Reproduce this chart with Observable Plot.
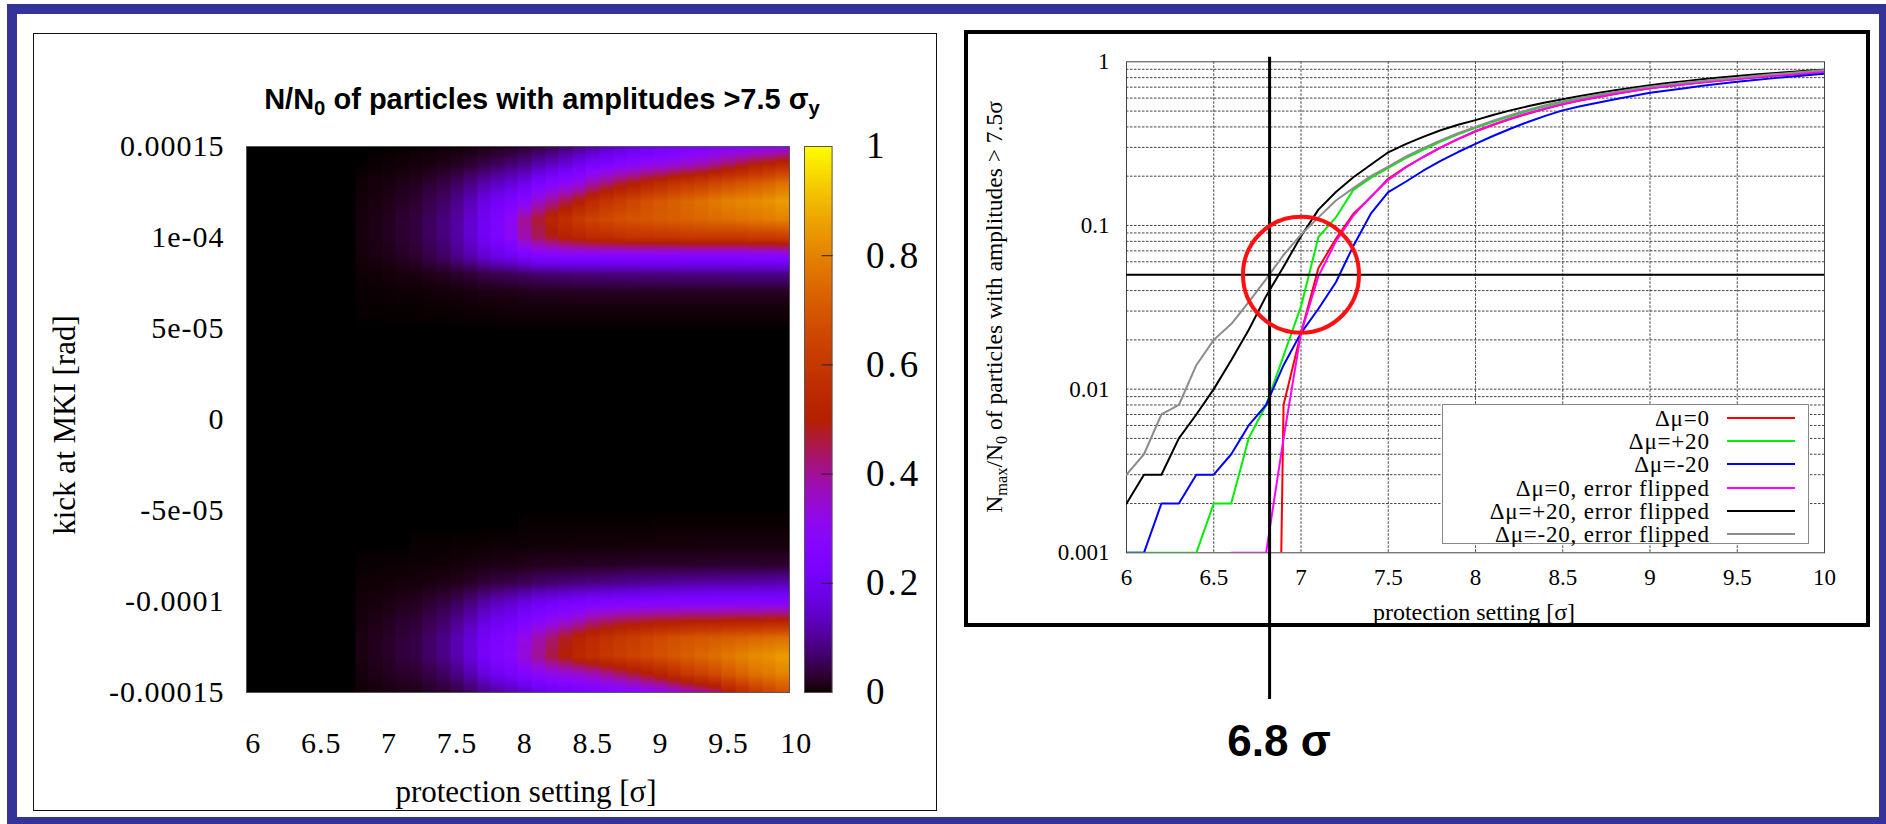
<!DOCTYPE html>
<html><head><meta charset="utf-8">
<script src="https://cdn.jsdelivr.net/npm/d3@7"></script>
<script src="https://cdn.jsdelivr.net/npm/@observablehq/plot@0.6"></script>
<style>
html,body{margin:0;padding:0;background:#fff;}
#page{position:relative;width:1886px;height:824px;overflow:hidden;background:#fff;}
.abs{position:absolute;}
.serif{font-family:"Liberation Serif","Times New Roman",serif;color:#000;line-height:1;white-space:nowrap;}
.c{transform:translate(-50%,-50%);}
.rot{transform:translate(-50%,-50%) rotate(-90deg);}
sub{font-size:0.7em;vertical-align:-0.3em;line-height:0;}
</style></head><body>
<div id="page">
  <div class="abs" style="left:7px;top:4px;width:1882px;height:823px;border:10px solid #333399;box-sizing:border-box;"></div>
  <div class="abs" style="left:33px;top:33px;width:904px;height:778px;border:1.5px solid #111;box-sizing:border-box;"></div>
  <div class="abs" style="left:964px;top:30px;width:906px;height:597px;border:4px solid #000;box-sizing:border-box;"></div>
  <div class="abs" id="heat" style="left:0;top:0;"></div>
  <div class="abs" id="cbar" style="left:790px;top:120px;"></div>
  <div class="abs" id="curves" style="left:960px;top:0;"></div>
  <div class="abs c" style="left:542px;top:99px;font:bold 29px 'Liberation Sans',Arial,sans-serif;line-height:1;white-space:nowrap;">N/N<sub>0</sub> of particles with amplitudes &gt;7.5 σ<sub>y</sub></div>
  <div class="abs serif rot" style="left:64px;top:425px;font-size:31px;">kick at MKI [rad]</div>
  <div class="abs serif c" style="left:526px;top:791px;font-size:31px;">protection setting [σ]</div>
  <div class="abs serif rot" style="left:995px;top:307px;font-size:23.5px;">N<sub>max</sub>/N<sub>0</sub> of particles with amplitudes &gt; 7.5σ</div>
  <div class="abs serif c" style="left:1474px;top:612px;font-size:24px;">protection setting [σ]</div>
  <div class="abs c" style="left:1279px;top:741px;font:bold 44px 'Liberation Sans',Arial,sans-serif;line-height:1;white-space:nowrap;">6.8 σ</div>
  <div class="abs" id="legend" style="left:1442px;top:404px;width:367px;height:140px;background:#fff;border:1px solid #888;box-sizing:border-box;"></div>
</div>
<script>
// ---------- left panel: heat map ----------
const protectionCols = [6.0,6.1,6.2,6.3,6.4,6.5,6.6,6.7,6.8,6.9,7.0,7.1,7.2,7.3,7.4,7.5,7.6,7.7,7.8,7.9,8.0,8.1,8.2,8.3,8.4,8.5,8.6,8.7,8.8,8.9,9.0,9.1,9.2,9.3,9.4,9.5,9.6,9.7,9.8,9.9];
const kickRows = [1.5e-4,1.4e-4,1.3e-4,1.2e-4,1.1e-4,1.0e-4,0.9e-4,0.8e-4,0.7e-4,0.6e-4,0.5e-4,
                  -0.5e-4,-0.6e-4,-0.7e-4,-0.8e-4,-0.9e-4,-1.0e-4,-1.1e-4,-1.2e-4,-1.3e-4,-1.4e-4,-1.5e-4];
const fraction = [
 [0,0,0,0,0,0,0,0, 0,0,0,0,.001,.0015,.003,.004,.007,.011,.015,.019,.028,.04,.05,.07,.09,.11,.13,.15,.165,.18,.2,.21,.22,.23,.25,.26,.27,.28,.29,.3],
 [0,0,0,0,0,0,0,0, 0,.0015,.003,.005,.007,.01,.015,.021,.032,.046,.06,.075,.092,.12,.14,.165,.195,.225,.25,.27,.29,.31,.32,.34,.36,.38,.41,.44,.47,.5,.52,.55],
 [0,0,0,0,0,0,0,0, .003,.006,.009,.014,.02,.03,.042,.061,.085,.116,.138,.158,.184,.23,.26,.29,.32,.38,.42,.46,.49,.52,.55,.58,.6,.62,.65,.67,.69,.71,.73,.76],
 [0,0,0,0,0,0,0,0, .005,.01,.015,.023,.031,.048,.064,.092,.128,.174,.206,.238,.28,.35,.4,.45,.5,.55,.59,.62,.65,.68,.7,.72,.74,.76,.78,.8,.81,.82,.83,.85],
 [0,0,0,0,0,0,0,0, .008,.012,.02,.03,.04,.06,.08,.11,.15,.2,.24,.3,.4,.47,.53,.57,.61,.64,.66,.68,.69,.7,.71,.72,.73,.74,.75,.76,.77,.78,.79,.8],
 [0,0,0,0,0,0,0,0, .008,.012,.02,.03,.04,.06,.08,.11,.15,.2,.24,.29,.38,.44,.48,.51,.53,.55,.56,.57,.58,.58,.59,.59,.6,.6,.6,.6,.6,.61,.61,.62],
 [0,0,0,0,0,0,0,0, .006,.01,.015,.023,.031,.048,.064,.092,.12,.158,.18,.2,.23,.26,.26,.27,.27,.27,.27,.27,.27,.27,.27,.27,.27,.27,.27,.27,.27,.275,.275,.28],
 [0,0,0,0,0,0,0,0, .003,.004,.006,.009,.011,.016,.02,.027,.035,.046,.052,.057,.064,.072,.075,.077,.08,.08,.082,.083,.084,.085,.085,.086,.087,.088,.088,.089,.09,.09,.09,.09],
 [0,0,0,0,0,0,0,0, .0015,.002,.002,.003,.003,.004,.005,.007,.0085,.012,.013,.014,.016,.018,.018,.019,.02,.02,.02,.02,.02,.02,.02,.02,.02,.02,.02,.02,.02,.02,.02,.02],
 [0,0,0,0,0,0,0,0, .0005,.0005,.001,.001,.001,.0015,.0015,.002,.003,.0033,.0035,.0045,.0046,.005,.005,.005,.005,.005,.005,.005,.005,.005,.005,.005,.005,.005,.005,.005,.005,.005,.005,.005],
 [0,0,0,0,0,0,0,0, 0,0,0,0,0,0,0,0,0,0,0,0,0,0,0,0,0,0,0,0,0,0,0,0,0,0,0,0,0,0,0,0],
 [0,0,0,0,0,0,0,0, 0,0,0,0,0,0,0,0,0,0,0,0,0,0,0,0,0,0,0,0,0,0,0,0,0,0,0,0,0,0,0,0],
 [0,0,0,0,0,0,0,0, 0,0,0,0,0,0,0,0,0,0,0,0,.001,.001,.001,.001,.001,.001,.001,.001,.001,.001,.002,.002,.002,.002,.002,.002,.002,.002,.002,.002],
 [0,0,0,0,0,0,0,0, 0,0,0,0,.001,.001,.001,.002,.002,.0025,.0035,.0035,.004,.005,.005,.005,.006,.006,.006,.006,.007,.007,.007,.007,.007,.008,.008,.008,.008,.008,.008,.008],
 [0,0,0,0,0,0,0,0, .001,.0015,.002,.002,.003,.0035,.004,.006,.008,.011,.013,.014,.017,.019,.02,.021,.022,.023,.024,.025,.026,.027,.027,.028,.028,.029,.029,.03,.03,.03,.03,.03],
 [0,0,0,0,0,0,0,0, .003,.004,.0045,.006,.007,.01,.013,.018,.026,.035,.043,.049,.057,.068,.073,.078,.083,.088,.092,.096,.1,.103,.106,.108,.11,.112,.114,.115,.116,.118,.119,.12],
 [0,0,0,0,0,0,0,0, .005,.008,.011,.016,.02,.03,.04,.055,.078,.108,.13,.145,.166,.19,.2,.21,.22,.23,.235,.24,.245,.25,.25,.252,.254,.255,.256,.257,.258,.259,.26,.26],
 [0,0,0,0,0,0,0,0, .008,.013,.02,.028,.033,.05,.066,.092,.124,.166,.19,.207,.24,.27,.3,.33,.36,.4,.42,.44,.45,.46,.47,.47,.48,.48,.48,.49,.49,.49,.5,.5],
 [0,0,0,0,0,0,0,0, .011,.018,.026,.037,.044,.065,.087,.122,.16,.208,.237,.264,.32,.38,.43,.48,.52,.55,.58,.6,.62,.64,.66,.68,.69,.7,.71,.72,.73,.74,.75,.76],
 [0,0,0,0,0,0,0,0, .011,.018,.026,.037,.044,.065,.087,.122,.163,.216,.25,.28,.34,.4,.46,.5,.54,.57,.6,.62,.64,.66,.68,.7,.72,.74,.76,.78,.8,.82,.83,.85],
 [0,0,0,0,0,0,0,0, .008,.013,.02,.027,.031,.045,.061,.085,.12,.166,.198,.22,.26,.29,.31,.33,.35,.37,.4,.43,.46,.49,.52,.56,.6,.63,.66,.7,.73,.76,.78,.8],
 [0,0,0,0,0,0,0,0, .004,.007,.009,.013,.015,.022,.03,.043,.06,.083,.103,.119,.138,.165,.18,.195,.21,.22,.235,.25,.265,.28,.3,.33,.36,.39,.42,.5,.55,.6,.64,.68]
];
const kickTicks = [1.5e-4, 1e-4, 5e-5, 0, -5e-5, -1e-4, -1.5e-4];
const kickTickLabels = ["0.00015", "1e-04", "5e-05", "0", "-5e-05", "-0.0001", "-0.00015"];
const heatXTicks = [6, 6.5, 7, 7.5, 8, 8.5, 9, 9.5, 10];
const colorbarTicks = [0, 0.2, 0.4, 0.6, 0.8, 1];

// ---------- right panel: curves ----------
const protection = [6.0,6.1,6.2,6.3,6.4,6.5,6.6,6.7,6.8,6.9,7.0,7.1,7.2,7.3,7.4,7.5,7.6,7.7,7.8,7.9,8.0,8.1,8.2,8.3,8.4,8.5,8.6,8.7,8.8,8.9,9.0,9.1,9.2,9.3,9.4,9.5,9.6,9.7,9.8,9.9,10.0];
const dmu0       = [0,0,0,0,0,0,0,0,1e-9,.008,.022,.055,.083,.118,.149,.193,.227,.262,.299,.337,.375,.411,.447,.482,.516,.55,.579,.608,.635,.662,.69,.71,.73,.748,.767,.785,.802,.818,.834,.849,.865];
const dmuP20     = [.001,.001,.001,.001,.001,.002,.002,.005,.008,.016,.032,.085,.112,.165,.195,.225,.258,.29,.325,.36,.395,.43,.465,.5,.535,.568,.596,.622,.647,.671,.695,.715,.735,.754,.772,.79,.808,.827,.845,.863,.88];
const dmuM20     = [.001,.001,.002,.002,.003,.003,.004,.006,.008,.014,.022,.031,.045,.075,.118,.16,.185,.216,.248,.281,.315,.352,.39,.429,.467,.505,.535,.562,.59,.618,.646,.668,.69,.713,.735,.755,.774,.792,.811,.828,.845];
const dmu0Flip   = [0,0,0,0,0,0,.001,.001,.001,.005,.022,.049,.08,.115,.15,.19,.226,.262,.30,.338,.378,.414,.45,.485,.519,.553,.582,.61,.637,.663,.69,.71,.73,.749,.768,.786,.804,.821,.838,.854,.87];
const dmuP20Flip = [.002,.003,.003,.005,.007,.010,.015,.023,.037,.056,.086,.125,.16,.197,.235,.28,.314,.348,.382,.412,.44,.473,.505,.535,.564,.59,.618,.644,.67,.695,.72,.741,.762,.782,.802,.82,.836,.851,.867,.881,.895];
const dmuM20Flip = [.003,.004,.007,.008,.014,.02,.025,.034,.047,.066,.088,.112,.142,.169,.20,.229,.263,.297,.331,.366,.40,.437,.472,.507,.542,.575,.603,.63,.655,.679,.705,.724,.745,.764,.782,.80,.818,.838,.855,.873,.89];
const seriesNames  = ["Δμ=0", "Δμ=+20", "Δμ=-20", "Δμ=0, error flipped", "Δμ=+20, error flipped", "Δμ=-20, error flipped"];
const seriesColors = ["#ff0000", "#00ee00", "#0000ff", "#ff00ff", "#000000", "#8c8c8c"];
const seriesValues = [dmu0, dmuP20, dmuM20, dmu0Flip, dmuP20Flip, dmuM20Flip];
const yMajor = [0.001, 0.01, 0.1, 1];
const yGrid = [0.002,0.003,0.004,0.005,0.006,0.007,0.008,0.009,0.01,0.02,0.03,0.04,0.05,0.06,0.07,0.08,0.09,0.1,0.2,0.3,0.4,0.5,0.6,0.7,0.8,0.9];
const xGrid = [6.5, 7, 7.5, 8, 8.5, 9, 9.5];
const xTicks = [6, 6.5, 7, 7.5, 8, 8.5, 9, 9.5, 10];
const threshold = 0.05;        // horizontal line
const chosenSetting = 6.82;    // vertical line ("6.8 σ")
const chosenSpan = [1.27e-4, 1.067];
const circleCenter = {x: 7.0, y: 0.05};

// gnuplot default palette (rgbformulae 7,5,15)
const gnuplotPalette = t => {
  const r = Math.sqrt(t), g = t * t * t, b = Math.max(0, Math.sin(2 * Math.PI * t));
  return `rgb(${Math.round(255 * r)},${Math.round(255 * g)},${Math.round(255 * b)})`;
};
const colorScale = {type: "linear", domain: [0, 1], clamp: true, interpolate: gnuplotPalette};
const serif = "'Liberation Serif','Times New Roman',serif";

// raster interpolation like the original image: blocky columns, smooth along the kick axis
function nearestColumnLinearRow(index, width, height, X, Y, V) {
  const key = v => Math.round(v * 100) / 100;
  const cols = Array.from(new Set(Array.from(index, i => key(X[i])))).sort((a, b) => a - b);
  const rows = Array.from(new Set(Array.from(index, i => key(Y[i])))).sort((a, b) => a - b);
  const grid = new Map();
  for (const i of index) grid.set(key(X[i]) + "," + key(Y[i]), V[i]);
  const W = new Float64Array(width * height);
  for (let py = 0; py < height; ++py) {
    const y = py + 0.5;
    const j = d3.bisectLeft(rows, y);
    let r0, r1, t = 0;
    if (j <= 0) { r0 = r1 = rows[0]; }
    else if (j >= rows.length) { r0 = r1 = rows[rows.length - 1]; }
    else { r0 = rows[j - 1]; r1 = rows[j]; t = (y - r0) / (r1 - r0); }
    for (let px = 0; px < width; ++px) {
      const x = px + 0.5;
      const k = d3.bisectLeft(cols, x);
      let c;
      if (k <= 0) c = cols[0];
      else if (k >= cols.length) c = cols[cols.length - 1];
      else c = (x - cols[k - 1] < cols[k] - x) ? cols[k - 1] : cols[k];
      const v0 = grid.get(c + "," + r0), v1 = grid.get(c + "," + r1);
      W[py * width + px] = v0 + (v1 - v0) * t;
    }
  }
  return W;
}

const heatData = kickRows.flatMap((y, r) => fraction[r].map((v, c) => ({x: protectionCols[c], y, v})));

const heat = Plot.plot({
  width: 800, height: 824,
  marginLeft: 246, marginRight: 11, marginTop: 146, marginBottom: 132,
  style: {background: "transparent", overflow: "visible", fontFamily: serif, letterSpacing: "1px", color: "#000"},
  x: {domain: [5.95, 9.95], label: null},
  y: {domain: [-1.5e-4, 1.5e-4], label: null},
  color: colorScale,
  marks: [
    Plot.frame({fill: "black"}),
    Plot.raster(heatData, {x: "x", y: "y", fill: "v", interpolate: nearestColumnLinearRow}),
    Plot.frame({stroke: "#555"}),
    Plot.axisY(kickTicks, {tickSize: 0, tickPadding: 22, fontSize: 30, label: null, tickFormat: d => kickTickLabels[kickTicks.indexOf(d)]}),
    Plot.axisX(heatXTicks, {tickSize: 0, tickPadding: 39, fontSize: 30, label: null, tickFormat: d => String(d)})
  ]
});
document.getElementById("heat").appendChild(heat);

const cbar = Plot.plot({
  width: 150, height: 600,
  marginLeft: 14, marginRight: 108.4, marginTop: 26, marginBottom: 28,
  style: {background: "transparent", overflow: "visible", fontFamily: serif, letterSpacing: "3px", color: "#000"},
  x: {domain: [0, 1], axis: null, label: null},
  y: {domain: [0, 1], axis: null, label: null},
  color: colorScale,
  marks: [
    Plot.raster({x1: 0, x2: 1, y1: 0, y2: 1, width: 1, height: 546, fill: (x, y) => y}),
    Plot.frame({stroke: "#555"}),
    Plot.axisY(colorbarTicks.slice(1, 5), {anchor: "right", tickSize: -11, stroke: "#222", label: null, tickFormat: () => ""}),
    Plot.axisY(colorbarTicks, {anchor: "right", tickSize: 0, tickPadding: 34, fontSize: 37, label: null, textAnchor: "start", tickFormat: d => String(d)})
  ]
});
document.getElementById("cbar").appendChild(cbar);

const curves = Plot.plot({
  width: 926, height: 824,
  marginLeft: 166, marginRight: 62, marginTop: 61.3, marginBottom: 271.7,
  style: {background: "transparent", overflow: "visible", fontFamily: serif, color: "#000"},
  x: {domain: [6, 10], label: null},
  y: {type: "log", domain: [0.001, 1], label: null},
  marks: [
    Plot.ruleY(yGrid, {stroke: "#444", strokeDasharray: "2.5,1.5", strokeWidth: 1}),
    Plot.ruleX(xGrid, {stroke: "#444", strokeDasharray: "2.5,1.5", strokeWidth: 1}),
    Plot.frame({stroke: "#444"}),
    Plot.axisY(yMajor, {tickSize: 0, tickPadding: 17, fontSize: 23, label: null, tickFormat: d => String(d)}),
    Plot.axisX(xTicks, {tickSize: 0, tickPadding: 16, fontSize: 23, label: null, tickFormat: d => String(d)}),
    ...seriesValues.map((vals, k) => Plot.line(protection, {
      x: d => d, y: (d, i) => vals[i], stroke: seriesColors[k], strokeWidth: 2, clip: true
    })),
    Plot.ruleY([threshold], {stroke: "#000", strokeWidth: 2}),
    Plot.ruleX([chosenSetting], {y1: chosenSpan[0], y2: chosenSpan[1], stroke: "#000", strokeWidth: 3}),
    Plot.dot([circleCenter], {x: "x", y: "y", r: 58, stroke: "#ff1010", strokeWidth: 4, fill: "none"})
  ]
});
document.getElementById("curves").appendChild(curves);

// legend
const legend = document.getElementById("legend");
seriesNames.forEach((name, i) => {
  const cy = 12.7 + 23.3 * i;
  const t = document.createElement("div");
  t.className = "abs serif";
  t.style.cssText = `right:${367 - 268.7}px;top:${cy}px;font-size:23px;letter-spacing:0.8px;transform:translateY(-50%);`;
  t.textContent = name;
  legend.appendChild(t);
  const l = document.createElement("div");
  l.className = "abs";
  l.style.cssText = `left:284px;top:${cy - 1}px;width:68px;height:2px;background:${seriesColors[i]};`;
  legend.appendChild(l);
});
</script>
</body></html>
